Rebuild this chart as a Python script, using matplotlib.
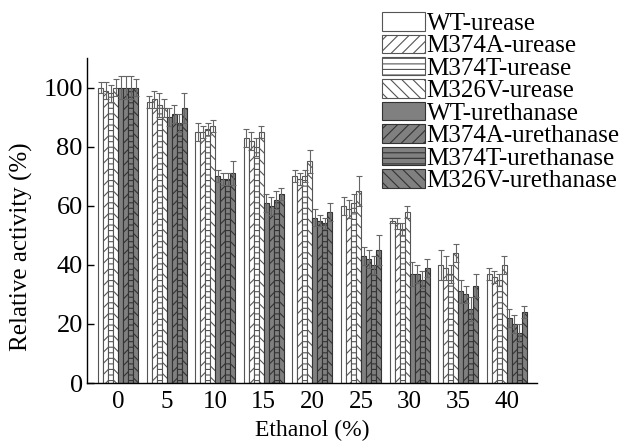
import matplotlib
matplotlib.use("Agg")
import matplotlib.pyplot as plt
import numpy as np

plt.rcParams['font.family'] = ['Liberation Serif', 'DejaVu Serif']
plt.rcParams['hatch.linewidth'] = 0.8

ethanol = ['0', '5', '10', '15', '20', '25', '30', '35', '40']
series_names = ['WT-urease', 'M374A-urease', 'M374T-urease', 'M326V-urease',
                'WT-urethanase', 'M374A-urethanase', 'M374T-urethanase', 'M326V-urethanase']

wt_urease = [100, 95, 85, 83, 70, 60, 55, 40, 37]
m374a_urease = [99, 96, 85, 82, 69, 59, 54, 39, 36]
m374t_urease = [98, 94, 86, 80, 70, 61, 52, 37, 35]
m326v_urease = [100, 93, 87, 85, 75, 65, 58, 44, 40]
wt_urethanase = [100, 90, 70, 61, 56, 43, 37, 31, 22]
m374a_urethanase = [100, 91, 69, 60, 55, 42, 37, 30, 20]
m374t_urethanase = [100, 88, 69, 62, 54, 40, 35, 25, 17]
m326v_urethanase = [100, 93, 71, 64, 58, 45, 39, 33, 24]

wt_urease_err = [2, 2, 3, 3, 2, 3, 1, 5, 2]
m374a_urease_err = [3, 3, 2, 3, 2, 3, 2, 4, 2]
m374t_urease_err = [3, 4, 2, 3, 2, 3, 2, 3, 2]
m326v_urease_err = [3, 3, 2, 2, 4, 5, 2, 3, 3]
wt_urethanase_err = [4, 3, 2, 3, 3, 3, 4, 4, 3]
m374a_urethanase_err = [4, 3, 2, 3, 2, 3, 3, 3, 3]
m374t_urethanase_err = [4, 3, 2, 3, 2, 3, 3, 4, 3]
m326v_urethanase_err = [3, 5, 4, 2, 3, 5, 3, 4, 2]

values = [wt_urease, m374a_urease, m374t_urease, m326v_urease,
          wt_urethanase, m374a_urethanase, m374t_urethanase, m326v_urethanase]
errors = [wt_urease_err, m374a_urease_err, m374t_urease_err, m326v_urease_err,
          wt_urethanase_err, m374a_urethanase_err, m374t_urethanase_err, m326v_urethanase_err]

hatches = ['', '///', '---', '\\\\\\', '', '///', '---', '\\\\\\']
fills = ['white'] * 4 + ['#808080'] * 4
edges = ['#555555'] * 4 + ['#333333'] * 4

fig = plt.figure(figsize=(6.28, 4.48), dpi=100)
ax = fig.add_axes([0.1385, 0.145, 0.7165, 0.7255])

x = np.arange(len(ethanol))
w = 0.103
for i, (vals, errs) in enumerate(zip(values, errors)):
    ax.bar(x + (i - 3.5) * w, vals, width=w, color=fills[i], edgecolor=edges[i],
           hatch=hatches[i], linewidth=0.8, label=series_names[i],
           yerr=errs, error_kw=dict(ecolor='#666666', elinewidth=0.8, capsize=2.5, capthick=0.8))

ax.set_xlim(-0.64, 8.62)
ax.set_ylim(0, 110)
ax.set_yticks([0, 20, 40, 60, 80, 100])
ax.set_xticks(x)
ax.set_xticklabels(ethanol)
ax.spines['top'].set_visible(False)
ax.spines['right'].set_visible(False)
ax.spines['left'].set_linewidth(1.0)
ax.spines['bottom'].set_linewidth(1.0)
ax.tick_params(axis='y', direction='in', length=5, width=1, labelsize=19, pad=3)
ax.tick_params(axis='x', length=0, labelsize=18, pad=6)
ax.set_ylabel('Relative activity (%)', fontsize=18)
ax.yaxis.set_label_coords(-0.12, 0.42)
ax.set_xlabel('Ethanol (%)', fontsize=17, labelpad=5)

fig.legend(loc='upper left', bbox_to_anchor=(0.609, 0.973), frameon=False,
           fontsize=18, handlelength=1.72, handleheight=0.76, labelspacing=-0.02,
           handletextpad=0.05, borderpad=0, borderaxespad=0)

fig.savefig('out.png', dpi=100)
